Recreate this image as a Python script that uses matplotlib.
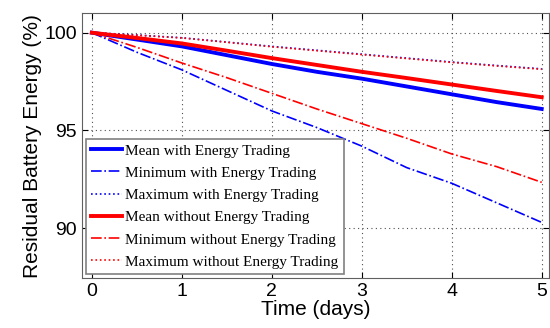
import matplotlib
matplotlib.use("Agg")
import matplotlib.pyplot as plt

# Time axis (days) and read-off battery levels (%)
days = [0, 0.5, 1, 1.5, 2, 2.5, 3, 3.5, 4, 4.5, 5]

mean_with = [100, 99.65, 99.3, 98.85, 98.4, 98.0, 97.65, 97.25, 96.85, 96.45, 96.1]
min_with = [100, 99.0, 98.1, 97.05, 96.0, 95.15, 94.2, 93.1, 92.3, 91.3, 90.3]
max_with = [100, 99.88, 99.74, 99.52, 99.3, 99.1, 98.9, 98.7, 98.5, 98.32, 98.15]

mean_without = [100, 99.73, 99.45, 99.08, 98.7, 98.35, 98.0, 97.68, 97.35, 97.02, 96.7]
min_without = [100, 99.25, 98.45, 97.7, 96.9, 96.1, 95.35, 94.6, 93.8, 93.15, 92.35]
max_without = [100, 99.87, 99.73, 99.51, 99.28, 99.08, 98.88, 98.68, 98.48, 98.3, 98.13]

xticks = [0, 1, 2, 3, 4, 5]
yticks = [90, 95, 100]

fig = plt.figure(figsize=(5.5, 3.28), dpi=100)
ax = fig.add_axes([0.149, 0.152, 0.849, 0.808])

ax.plot(days, mean_with, color="blue", lw=2.8, label="Mean with Energy Trading")
ax.plot(days, min_with, color="blue", lw=1.2, ls="-.", label="Minimum with Energy Trading")
ax.plot(days, max_with, color="blue", lw=1.2, ls=":", label="Maximum with Energy Trading")
ax.plot(days, mean_without, color="red", lw=2.8, label="Mean without Energy Trading")
ax.plot(days, min_without, color="red", lw=1.2, ls="-.", label="Minimum without Energy Trading")
ax.plot(days, max_without, color="red", lw=1.2, ls=":", label="Maximum without Energy Trading")

ax.set_xlim(-0.11, 5.08)
ax.set_ylim(87.45, 101)
ax.set_xticks(xticks)
ax.set_yticks(yticks)
ax.grid(True, ls=(0, (1, 3)), color="#505050", lw=0.8)
ax.tick_params(direction="in", labelsize=14, length=4, top=True, right=True)
for lab in ax.get_xticklabels() + ax.get_yticklabels():
    lab.set_family("Liberation Sans")
for s in ax.spines.values():
    s.set_color("#606060")

ax.set_xlabel("Time (days)", fontsize=15, family="Liberation Sans", labelpad=0)
ax.set_ylabel("Residual Battery Energy (%)", fontsize=15, family="Liberation Sans", labelpad=2)

leg = ax.legend(loc="lower left", bbox_to_anchor=(0.009, 0.015), borderaxespad=0,
                fancybox=False, framealpha=1, edgecolor="#808080",
                prop={"family": "Liberation Serif", "size": 11},
                handlelength=2.0, handletextpad=0.2, labelspacing=0.56,
                borderpad=0.35)
leg.get_frame().set_linewidth(1.2)

fig.savefig("out.png", dpi=100)
